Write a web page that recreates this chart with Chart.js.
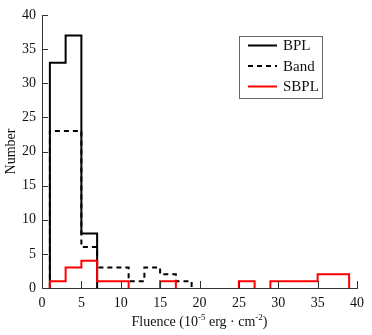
<!DOCTYPE html>
<html>
<head>
<meta charset="utf-8">
<script src="https://cdn.jsdelivr.net/npm/chart.js@4.4.1/dist/chart.umd.min.js"></script>
<style>
  html, body { margin: 0; padding: 0; background: #fff; }
  #wrap { width: 372px; height: 335px; }
</style>
</head>
<body>
<div id="wrap"><canvas id="grafico"></canvas></div>
<script>
// bordas dos bins (largura 2), de 1 a 39
const bordas = [1, 3, 5, 7, 9, 11, 13, 15, 17, 19, 21, 23, 25, 27, 29, 31, 33, 35, 37, 39];

// contagens por bin
const bpl  = [33, 37, 8, 0, 0, 0, 0, 0, 0, 0, 0, 0, 0, 0, 0, 0, 0, 0, 0];
const band = [23, 23, 6, 3, 3, 1, 3, 2, 1, 0, 0, 0, 0, 0, 0, 0, 0, 0, 0];
const sbpl = [1, 3, 4, 1, 1, 0, 0, 1, 0, 0, 0, 0, 1, 0, 1, 1, 1, 2, 2];

const xTicks = [0, 5, 10, 15, 20, 25, 30, 35, 40];
const yTicks = [0, 5, 10, 15, 20, 25, 30, 35, 40];

const fonte = 'Liberation Serif';

// monta os degraus do histograma, com quebra (null) onde a contagem é zero
function degraus(contagens) {
  const pts = [];
  let i = 0;
  while (i < contagens.length) {
    if (contagens[i] === 0) { i++; continue; }
    pts.push({ x: bordas[i], y: 0 });
    while (i < contagens.length && contagens[i] !== 0) {
      pts.push({ x: bordas[i], y: contagens[i] });
      i++;
    }
    pts.push({ x: bordas[i], y: 0 });
    pts.push({ x: bordas[i], y: null });
  }
  return pts;
}

// legenda dentro da área do gráfico
const legendaCaixa = {
  id: 'legendaCaixa',
  afterDraw(chart) {
    const ctx = chart.ctx;
    const x0 = 239.5, y0 = 36.5, w = 83, h = 62;
    ctx.save();
    ctx.strokeStyle = '#666';
    ctx.lineWidth = 1;
    ctx.strokeRect(x0, y0, w, h);
    chart.data.datasets.forEach((ds, i) => {
      const y = 45.5 + i * 20.5;
      ctx.beginPath();
      ctx.strokeStyle = ds.borderColor;
      ctx.lineWidth = 2;
      ctx.setLineDash(ds.borderDash || []);
      ctx.moveTo(248, y);
      ctx.lineTo(277, y);
      ctx.stroke();
      ctx.setLineDash([]);
      ctx.fillStyle = '#111';
      ctx.font = '15px "' + fonte + '"';
      ctx.textBaseline = 'middle';
      ctx.fillText(ds.label, 283, y + 1);
    });
    ctx.restore();
  }
};

// marcas dos eixos voltadas para dentro
const marcasInternas = {
  id: 'marcasInternas',
  afterDatasetsDraw(chart) {
    const ctx = chart.ctx;
    const xs = chart.scales.x, ys = chart.scales.y;
    const area = chart.chartArea;
    ctx.save();
    ctx.strokeStyle = '#333';
    ctx.lineWidth = 1;
    ctx.beginPath();
    xTicks.forEach(v => {
      const px = Math.round(xs.getPixelForValue(v)) + 0.5;
      ctx.moveTo(px, area.bottom);
      ctx.lineTo(px, area.bottom - 7);
    });
    yTicks.forEach(v => {
      const py = Math.round(ys.getPixelForValue(v)) + 0.5;
      ctx.moveTo(area.left, py);
      ctx.lineTo(area.left + 6, py);
    });
    ctx.stroke();
    ctx.restore();
  }
};

// título do eixo x com expoentes
const tituloX = {
  id: 'tituloX',
  afterDraw(chart) {
    const ctx = chart.ctx;
    const area = chart.chartArea;
    const partes = [
      ['Fluence (10', false], ['-5', true], [' erg \u00B7 cm', false], ['-2', true], [')', false]
    ];
    const normal = '14px "' + fonte + '"';
    const sup = '9px "' + fonte + '"';
    ctx.save();
    ctx.fillStyle = '#111';
    ctx.textBaseline = 'alphabetic';
    let total = 0;
    partes.forEach(([t, s]) => { ctx.font = s ? sup : normal; total += ctx.measureText(t).width; });
    let x = (area.left + area.right) / 2 - total / 2;
    const base = 326;
    partes.forEach(([t, s]) => {
      ctx.font = s ? sup : normal;
      ctx.fillText(t, x, s ? base - 6 : base);
      x += ctx.measureText(t).width;
    });
    ctx.restore();
  }
};

new Chart(document.getElementById('grafico'), {
  type: 'line',
  data: {
    datasets: [
      { label: 'BPL', data: degraus(bpl), borderColor: '#000', borderWidth: 2, stepped: 'before', pointRadius: 0, spanGaps: false, clip: false, order: 1 },
      { label: 'Band', data: degraus(band), borderColor: '#000', borderWidth: 2, borderDash: [5, 4], stepped: 'before', pointRadius: 0, spanGaps: false, clip: false, order: 2 },
      { label: 'SBPL', data: degraus(sbpl), borderColor: '#ff0000', borderWidth: 2, stepped: 'before', pointRadius: 0, spanGaps: false, clip: false, order: 0 }
    ]
  },
  options: {
    responsive: true,
    maintainAspectRatio: false,
    animation: false,
    layout: { padding: { top: 15, right: 15, left: 0, bottom: 0 } },
    plugins: {
      legend: { display: false },
      tooltip: { enabled: false }
    },
    scales: {
      x: {
        type: 'linear',
        min: 0,
        max: 40,
        afterFit: s => { s.height = 47; },
        afterBuildTicks: s => { s.ticks = xTicks.map(v => ({ value: v })); },
        grid: { drawOnChartArea: false, drawTicks: false },
        border: { color: '#333', width: 1 },
        ticks: { padding: 7, color: '#111', font: { family: fonte, size: 14 } }
      },
      y: {
        min: 0,
        max: 40,
        afterFit: s => { s.width = 42; },
        afterBuildTicks: s => { s.ticks = yTicks.map(v => ({ value: v })); },
        grid: { drawOnChartArea: false, drawTicks: false },
        border: { color: '#333', width: 1 },
        ticks: { padding: 6, color: '#111', font: { family: fonte, size: 14 } },
        title: {
          display: true,
          text: 'Number',
          color: '#111',
          font: { family: fonte, size: 14 },
          padding: { top: 3, bottom: 0 }
        }
      }
    }
  },
  plugins: [legendaCaixa, marcasInternas, tituloX]
});
</script>
</body>
</html>
